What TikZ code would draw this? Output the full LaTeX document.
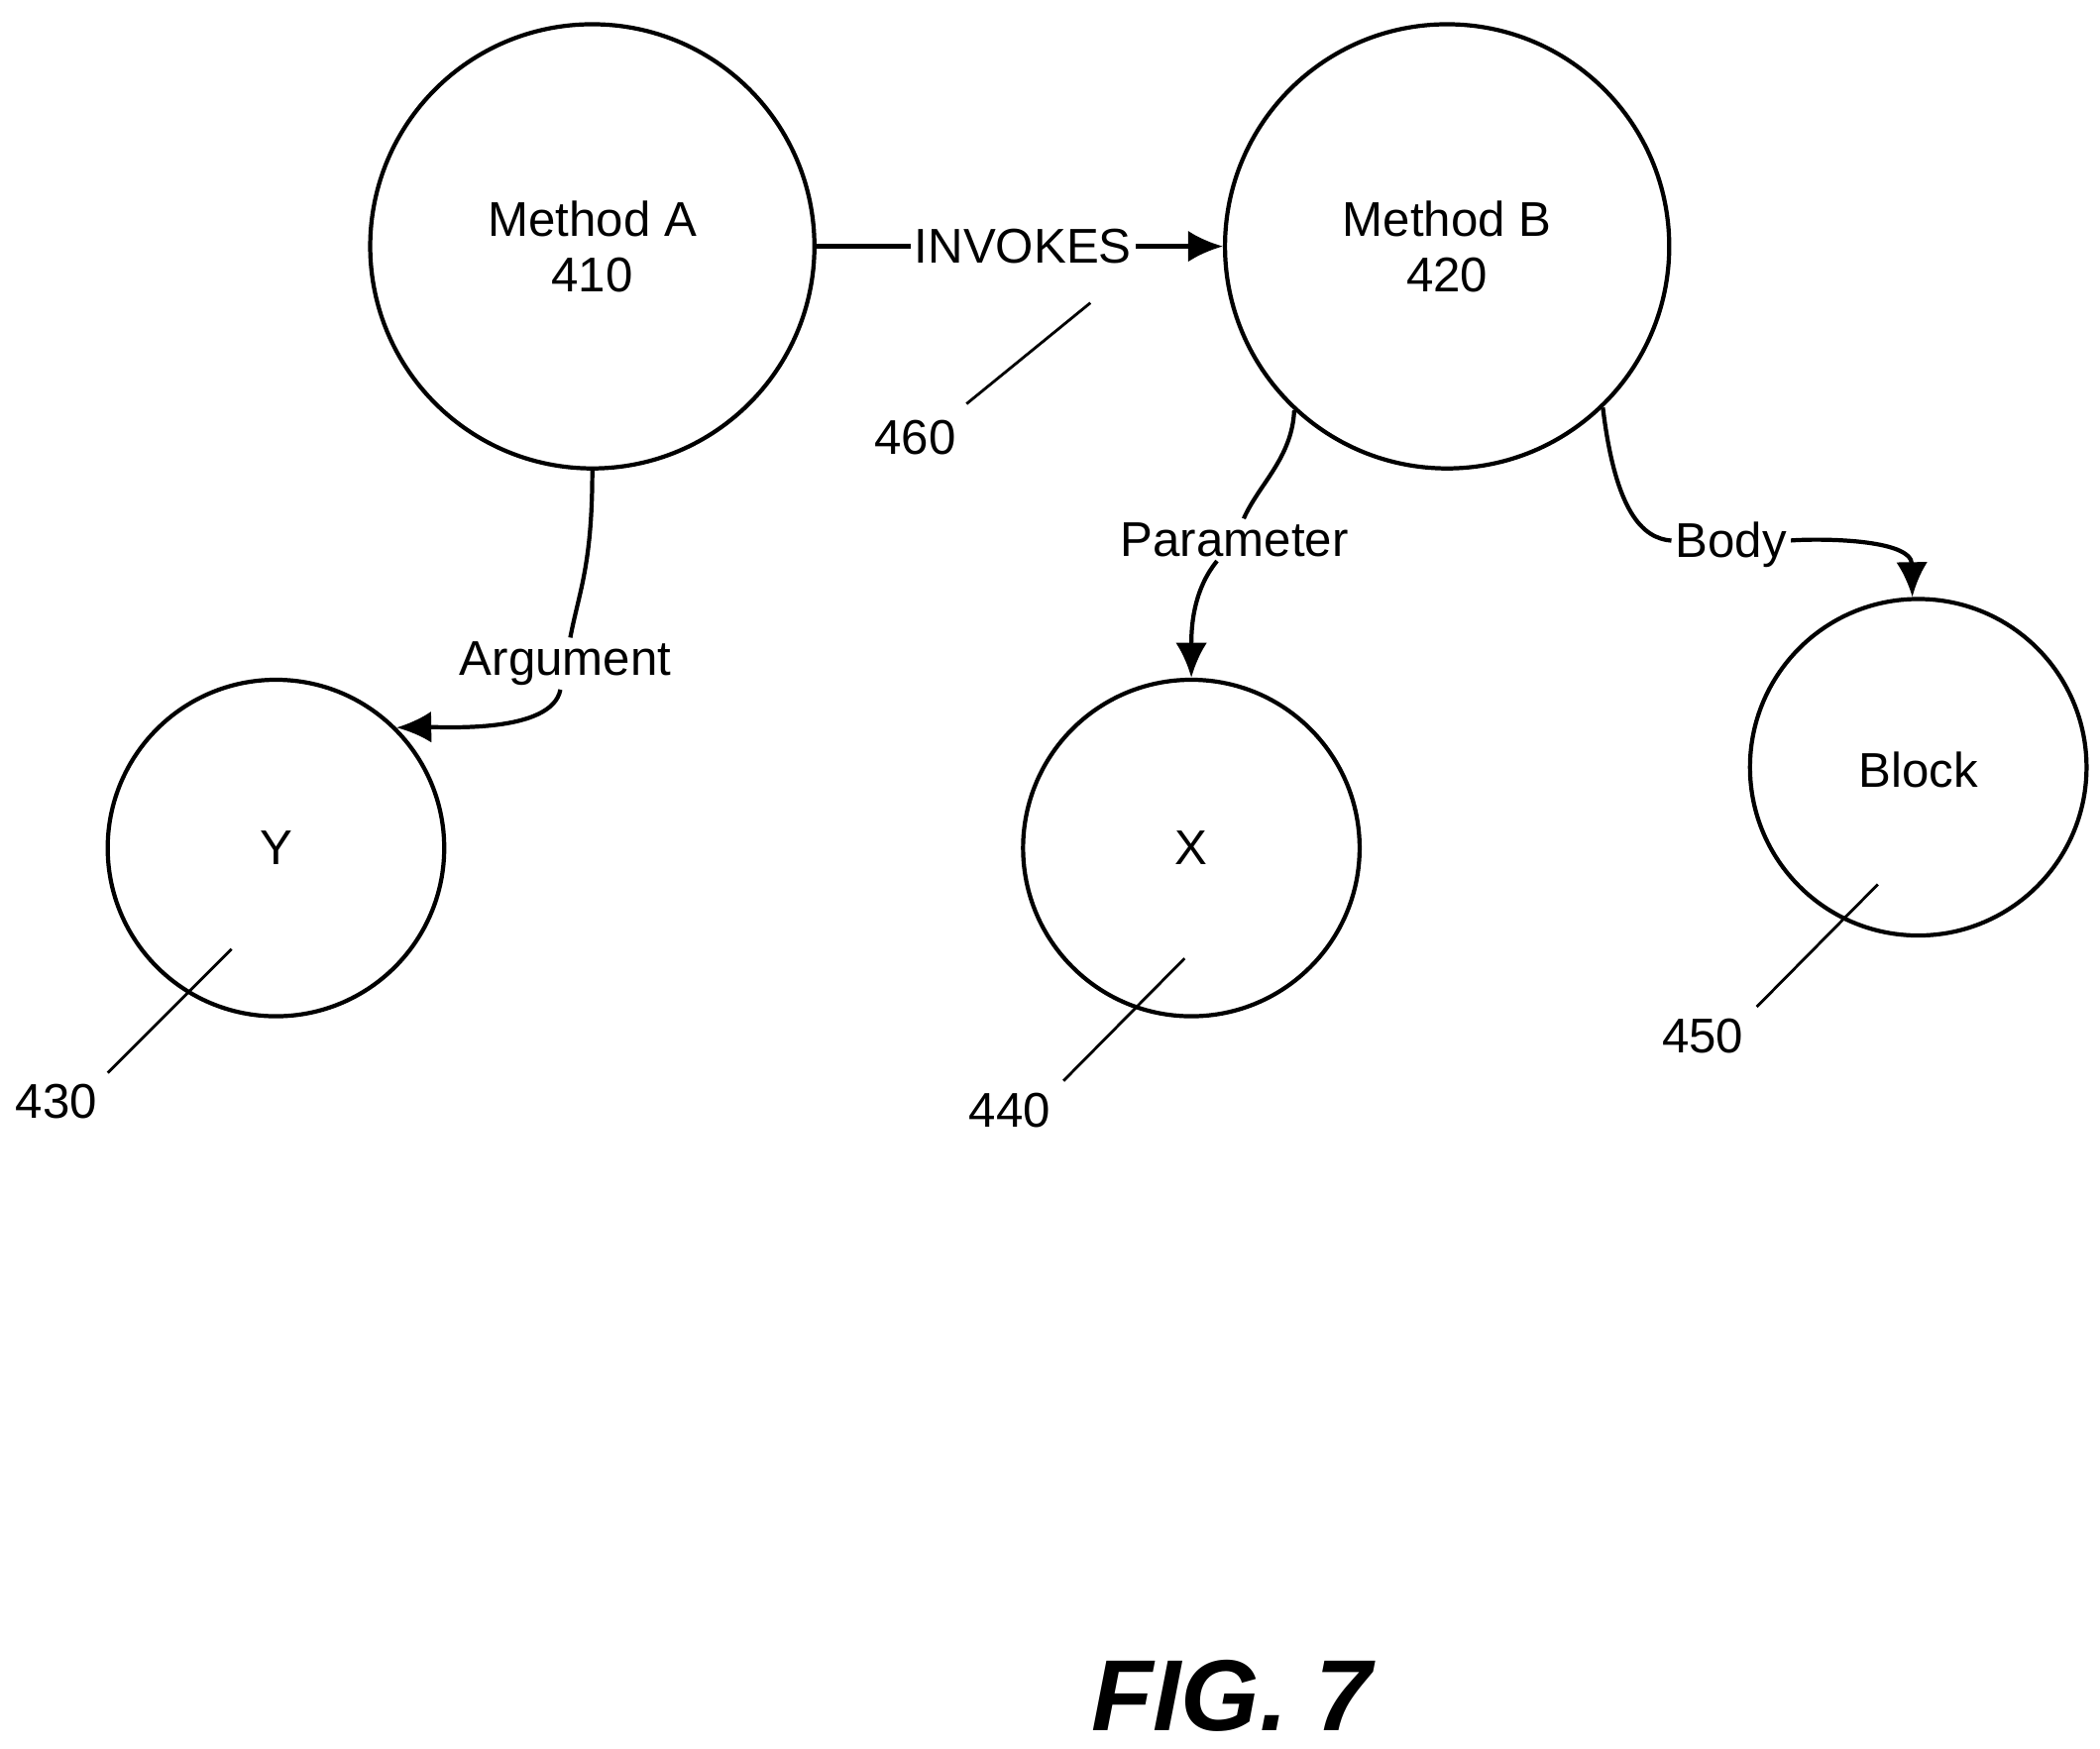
\documentclass[tikz,border=0pt]{standalone}
\usepackage{fontspec}
\setmainfont{Liberation Sans}
\usetikzlibrary{arrows.meta}
\begin{document}
\begin{tikzpicture}[x=0.01358cm,y=-0.01358cm,
  every node/.style={font=\fontsize{14}{16}\selectfont},
  meth/.style={draw,circle,line width=1.2pt,minimum size=330*0.01358cm,align=center,inner sep=0pt},
  leaf/.style={draw,circle,line width=1.2pt,minimum size=250*0.01358cm,inner sep=0pt},
  rel/.style={line width=1.2pt,-{Latex[length=10pt,width=9pt]}},
  lead/.style={line width=0.8pt}]
\useasboundingbox (0,0) rectangle (1560,1299);
% methods
\node[meth] (ma) at (440,183) {Method A\\410};
\node[meth] (mb) at (1075,183) {Method B\\420};
% leaves
\node[leaf] (y) at (205,630) {Y};
\node[leaf] (x) at (885,630) {X};
\node[leaf] (blk) at (1425,570) {};
\node at (1425,572) {Block};
% relations
\node[fill=white,inner sep=1pt] (inv) at (760,183) {INVOKES};
\draw[line width=1.2pt] (ma.east) -- (inv);
\draw[rel] (inv) -- (mb.west);
\node[fill=white,inner sep=1pt] (arg) at (420,493) {Argument};
\draw[line width=1.2pt] (ma.south) .. controls (440,420) and (430,440) .. (arg);
\draw[rel] (arg) .. controls (410,545) and (330,540) .. (y.45);
\node[fill=white,inner sep=1pt] (par) at (917,401) {Parameter};
\draw[line width=1.2pt] (mb.227) .. controls (960,340) and (935,360) .. (par);
\draw[rel] (par) .. controls (885,440) and (885,470) .. (x.north);
\node[fill=white,inner sep=1pt] (bod) at (1286,405) {Body};
\draw[line width=1.2pt] (mb.314) .. controls (1200,380) and (1220,400) .. (bod);
\draw[rel] (bod) .. controls (1350,400) and (1420,400) .. (blk.92);
% reference numerals
\coordinate (r460a) at (810,225);
\node (r460) at (680,325) {460};
\draw[lead] (r460a) -- (718,300);
\coordinate (r430a) at (172,705);
\node (r430) at (42,818) {430};
\draw[lead] (r430a) -- (80,797);
\coordinate (r440a) at (880,712);
\node (r440) at (750,825) {440};
\draw[lead] (r440a) -- (790,803);
\coordinate (r450a) at (1395,657);
\node (r450) at (1265,770) {450};
\draw[lead] (r450a) -- (1305,748);
\node[font=\fontsize{29}{32}\selectfont\bfseries\itshape] (fig) at (915,1260) {FIG. 7};
\end{tikzpicture}
\end{document}
